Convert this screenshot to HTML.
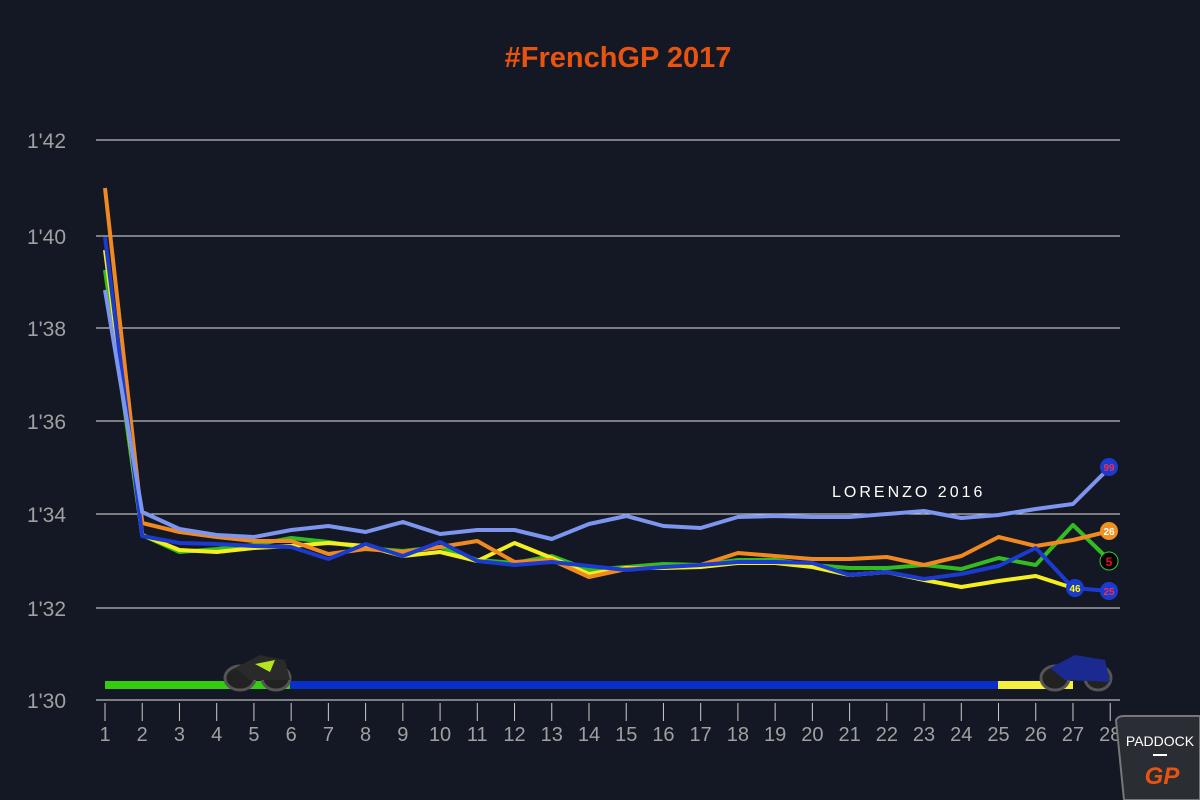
<!DOCTYPE html><html><head><style>body{margin:0;background:#131824;}svg{display:block}</style></head><body>
<svg width="1200" height="800" xmlns="http://www.w3.org/2000/svg" font-family="Liberation Sans, sans-serif">
<rect width="1200" height="800" fill="#131824"/>
<text x="618" y="67" text-anchor="middle" fill="#e8530f" font-size="29" font-weight="bold">#FrenchGP 2017</text>
<g stroke="#e4e4e4" stroke-width="1">
<line x1="96" y1="140" x2="1120" y2="140"/><line x1="96" y1="236" x2="1120" y2="236"/><line x1="96" y1="328" x2="1120" y2="328"/><line x1="96" y1="421" x2="1120" y2="421"/><line x1="96" y1="514" x2="1120" y2="514"/><line x1="96" y1="608" x2="1120" y2="608"/><line x1="96" y1="700" x2="1120" y2="700"/>
</g>
<g fill="#a0a0a0" font-size="21" text-anchor="end">
<text x="66" y="148">1'42</text><text x="66" y="244">1'40</text><text x="66" y="336">1'38</text><text x="66" y="429">1'36</text><text x="66" y="522">1'34</text><text x="66" y="616">1'32</text><text x="66" y="708">1'30</text>
</g>
<g id="t" stroke="#ccc" stroke-width="1"></g>
<g fill="#a0a0a0" font-size="20" text-anchor="middle" id="xl"></g>
<rect x="105" y="681" width="185" height="8" fill="#33cc11"/>
<rect x="290" y="681" width="708" height="8" fill="#0a2fc8"/>
<rect x="998" y="681" width="75" height="8" fill="#f5ef40"/>
<g id="lines" fill="none" stroke-width="4" stroke-linejoin="round"></g>
<text x="832" y="497" fill="#fff" font-size="16" letter-spacing="3">LORENZO 2016</text>
<circle cx="1109" cy="467" r="9" fill="#1a3ad0"/><text x="1109" y="471" fill="#f03050" font-size="10" font-weight="bold" text-anchor="middle">99</text>
<circle cx="1109" cy="531" r="9" fill="#f09020"/><text x="1109" y="535" fill="#fff" font-size="10" font-weight="bold" text-anchor="middle">26</text>
<circle cx="1109" cy="561" r="9" fill="#000" stroke="#3c3" stroke-width="1"/><text x="1109" y="566" fill="#e11" font-size="12" font-weight="bold" text-anchor="middle">5</text>
<circle cx="1075" cy="588" r="9" fill="#1a3ad0"/><text x="1075" y="592" fill="#ff0" font-size="10" font-weight="bold" text-anchor="middle">46</text>
<circle cx="1109" cy="591" r="9" fill="#1a3ad0"/><text x="1109" y="595" fill="#f03050" font-size="10" font-weight="bold" text-anchor="middle">25</text>
<g><ellipse cx="240" cy="678" rx="15" ry="12" fill="#222" stroke="#555" stroke-width="3"/><ellipse cx="276" cy="678" rx="14" ry="12" fill="#222" stroke="#555" stroke-width="3"/><path d="M235 668 L260 655 L285 660 L290 680 L250 680Z" fill="#2a2a2a"/><path d="M255 664 L275 660 L270 672Z" fill="#b5e61d"/></g>
<g><ellipse cx="1055" cy="678" rx="14" ry="12" fill="#222" stroke="#555" stroke-width="3"/><ellipse cx="1098" cy="678" rx="13" ry="12" fill="#222" stroke="#555" stroke-width="3"/><path d="M1050 668 L1075 655 L1105 660 L1110 682 L1065 680Z" fill="#1a2a90"/></g>
<path d="M1116 720 Q1118 716 1124 716 L1200 716 L1200 800 L1124 800Z" fill="#2a2d33" stroke="#777" stroke-width="2"/>
<text x="1160" y="746" fill="#fff" font-size="14" text-anchor="middle">PADDOCK</text>
<line x1="1153" y1="755" x2="1167" y2="755" stroke="#fff" stroke-width="2"/>
<text x="1162" y="784" fill="#e8530f" font-size="24" font-weight="bold" font-style="italic" text-anchor="middle">GP</text>
</svg>
<script>
const X=i=>105+(i-1)*37.23;
let t='',l='';
for(let i=1;i<=28;i++){t+=`<line x1="${X(i)}" y1="703" x2="${X(i)}" y2="721"/>`;l+=`<text x="${X(i)}" y="741">${i}</text>`;}
document.getElementById('t').innerHTML=t;document.getElementById('xl').innerHTML=l;
const S=[
["#33bb22",[270,535,552,549,545,538,542,548,551,547,560,563,556,570,567,564,565,560,560,565,568,568,565,569,558,565,525,561]],
["#f5ef20",[250,535,550,552,548,546,543,546,556,552,561,543,558,574,568,568,567,563,563,567,575,572,580,587,581,576,588]],
["#f08a20",[188,523,532,537,541,541,554,549,552,547,541,562,560,577,569,567,565,553,556,559,559,557,565,556,537,546,540,531]],
["#1a3ad0",[237,536,543,544,546,547,559,544,556,542,561,565,562,566,570,567,565,562,562,563,575,572,579,574,566,548,588,591]],
["#7d95ee",[290,512,529,535,537,530,526,532,522,534,530,530,539,524,516,526,528,517,516,517,517,514,511,518,515,509,504,467]]];
let h='';for(const[c,d]of S){h+=`<polyline stroke="${c}" points="${d.map((y,i)=>X(i+1)+','+y).join(' ')}"/>`;}
document.getElementById('lines').innerHTML=h;
</script>
</body></html>
